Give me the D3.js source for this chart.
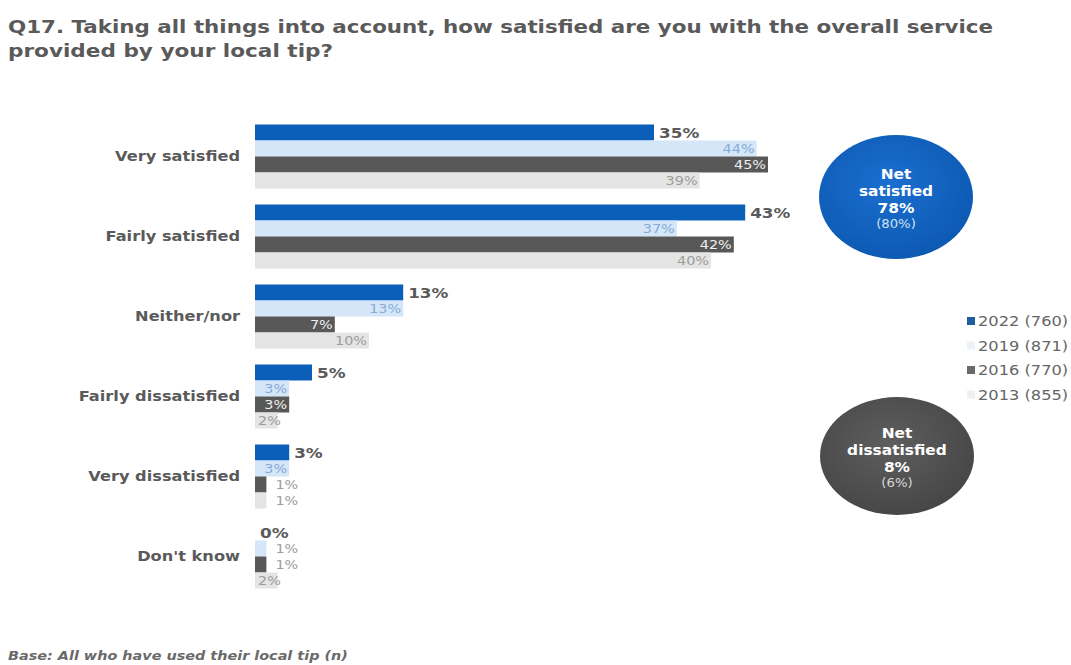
<!DOCTYPE html>
<html>
<head>
<meta charset="utf-8">
<script src="https://cdn.jsdelivr.net/npm/d3@7"></script>
<style>
  html, body { margin: 0; padding: 0; background: #ffffff; }
  svg { display: block; }
</style>
</head>
<body>
<svg id="chart" width="1071" height="665"></svg>
<script>
// ---- data ----
const titleLines = ["Q17. Taking all things into account, how satisfied are you with the overall service", "provided by your local tip?"];
const categories = ["Very satisfied", "Fairly satisfied", "Neither/nor", "Fairly dissatisfied", "Very dissatisfied", "Don't know"];
const years = ["2022", "2019", "2016", "2013"];
const legendLabels = ["2022 (760)", "2019 (871)", "2016 (770)", "2013 (855)"];
const values2022 = [35, 43, 13, 5, 3, 0];
const values2019 = [44, 37, 13, 3, 3, 1];
const values2016 = [45, 42, 7, 3, 1, 1];
const values2013 = [39, 40, 10, 2, 1, 2];
const netSatisfied = ["Net", "satisfied", "78%", "(80%)"];
const netDissatisfied = ["Net", "dissatisfied", "8%", "(6%)"];
const footnote = "Base: All who have used their local tip (n)";

const seriesValues = [values2022, values2019, values2016, values2013];
const barColors = ["#0c5fb8", "#d4e6f8", "#585858", "#e4e4e4"];
const labelColors = ["#595959", "#86abd6", "#eeeeee", "#9c9c9c"];
const legendColors = ["#1f5f9e", "#eef3f9", "#6a6a6a", "#efefef"];

const svg = d3.select("#chart");
const FONT = "'DejaVu Sans', Verdana, sans-serif";
const textGray = "#5a5a5a";

// stretch glyphs horizontally to mimic the wider Verdana face
function widen(sel, factor) {
  sel.each(function() {
    const w = this.getComputedTextLength();
    d3.select(this).attr("textLength", w * factor).attr("lengthAdjust", "spacingAndGlyphs");
  });
  return sel;
}

// title
const titleWidths = [985, 325];
titleLines.forEach((t, i) => {
  svg.append("text")
    .attr("x", 8).attr("y", 33 + i * 24)
    .attr("font-family", FONT).attr("font-weight", "bold").attr("font-size", 17)
    .attr("textLength", titleWidths[i]).attr("lengthAdjust", "spacingAndGlyphs")
    .attr("fill", textGray)
    .text(t);
});

// scales
const x = d3.scaleLinear().domain([0, 50]).range([255, 825]);
const y = d3.scaleBand().domain(categories).range([116.5, 596.5]).paddingInner(0.2).paddingOuter(0.1);
const yInner = d3.scaleBand().domain(years).range([0, y.bandwidth()]).padding(0);

// category axis labels
const yAxis = d3.axisLeft(y).tickSize(0).tickPadding(15);
const gAxis = svg.append("g").attr("transform", "translate(255,0)").call(yAxis);
gAxis.select(".domain").remove();
widen(gAxis.selectAll("text")
  .attr("font-family", FONT).attr("font-weight", "bold").attr("font-size", 13.5)
  .attr("fill", textGray), 1.2);

// bars
const groups = svg.append("g").selectAll("g")
  .data(categories)
  .join("g")
  .attr("transform", d => `translate(0,${y(d)})`);

years.forEach((yr, si) => {
  groups.each(function(c, ci) {
    const g = d3.select(this);
    const v = seriesValues[si][ci];
    const y0 = yInner(yr);
    const h = yInner.bandwidth();
    g.append("rect")
      .attr("x", x(0)).attr("y", y0)
      .attr("width", x(v) - x(0)).attr("height", h)
      .attr("fill", barColors[si]);
    const label = v + "%";
    const cy = y0 + h / 2;
    if (si === 0) {
      const t = g.append("text")
        .attr("x", x(v) + 5).attr("y", cy + 5)
        .attr("font-family", FONT).attr("font-weight", "bold").attr("font-size", 14)
        .attr("fill", textGray).text(label);
      widen(t, 1.2);
    } else {
      const t = g.append("text")
        .attr("y", cy + 4.5)
        .attr("font-family", FONT).attr("font-size", 12)
        .text(label);
      widen(t, 1.2);
      const w = +t.attr("textLength");
      if (v <= 1) {
        t.attr("x", x(v) + 9).attr("fill", "#9c9c9c");
      } else {
        const endX = Math.max(x(v) - 2, x(0) + 3 + w);
        t.attr("x", endX).attr("text-anchor", "end").attr("fill", labelColors[si]);
      }
    }
  });
});

// net ellipses
const defs = svg.append("defs");
const gb = defs.append("radialGradient").attr("id", "gBlue").attr("cx", "45%").attr("cy", "40%").attr("r", "65%");
gb.append("stop").attr("offset", "0%").attr("stop-color", "#1c6fd0");
gb.append("stop").attr("offset", "100%").attr("stop-color", "#0b58b0");
const gg = defs.append("radialGradient").attr("id", "gGray").attr("cx", "45%").attr("cy", "40%").attr("r", "65%");
gg.append("stop").attr("offset", "0%").attr("stop-color", "#5e5e5e");
gg.append("stop").attr("offset", "100%").attr("stop-color", "#454545");

function netBubble(cx, cy, rx, ry, fill, lines, subColor) {
  const g = svg.append("g");
  g.append("ellipse").attr("cx", cx).attr("cy", cy).attr("rx", rx).attr("ry", ry).attr("fill", fill);
  const offs = [-18, -1, 16, 31];
  lines.forEach((t, i) => {
    const tx = g.append("text")
      .attr("x", cx).attr("y", cy + offs[i])
      .attr("text-anchor", "middle")
      .attr("font-family", FONT)
      .attr("font-weight", i < 3 ? "bold" : "normal")
      .attr("font-size", i < 3 ? 14 : 12)
      .attr("fill", i < 3 ? "#ffffff" : subColor)
      .text(t);
    widen(tx, 1.1);
  });
}
netBubble(896, 197, 77, 62, "url(#gBlue)", netSatisfied, "#cfe0f5");
netBubble(897, 456, 77, 59, "url(#gGray)", netDissatisfied, "#d8d8d8");

// legend
const legend = svg.append("g");
legendLabels.forEach((t, i) => {
  const ly = 321 + i * 24.5;
  legend.append("rect").attr("x", 967).attr("y", ly - 4).attr("width", 8).attr("height", 8).attr("fill", legendColors[i]);
  const tx = legend.append("text")
    .attr("x", 978).attr("y", ly + 5)
    .attr("font-family", FONT).attr("font-size", 14)
    .attr("fill", "#666666").text(t);
  widen(tx, 1.16);
});

// footnote
widen(svg.append("text")
  .attr("x", 8).attr("y", 660)
  .attr("font-family", FONT).attr("font-weight", "bold").attr("font-style", "italic").attr("font-size", 12)
  .attr("fill", "#6a6a6a").text(footnote), 1.2);
</script>
</body>
</html>
